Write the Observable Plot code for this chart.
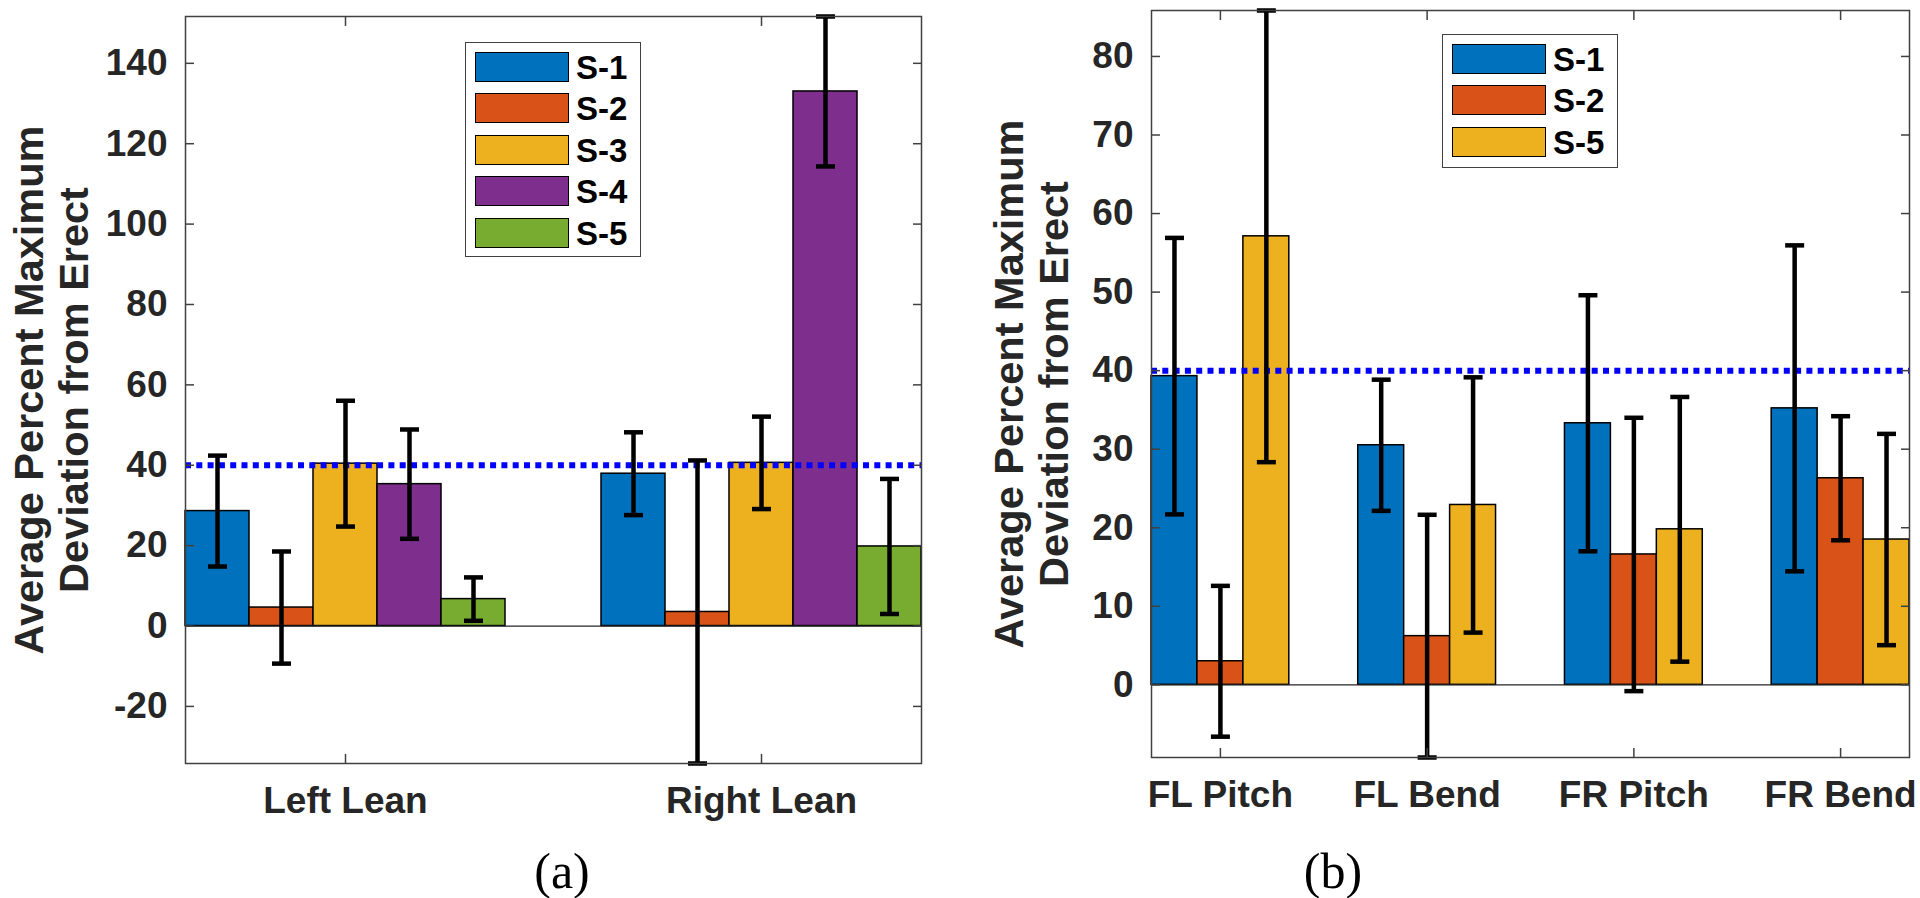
<!DOCTYPE html>
<html>
<head>
<meta charset="utf-8">
<script src="https://cdn.jsdelivr.net/npm/d3@7"></script>
<script src="https://cdn.jsdelivr.net/npm/@observablehq/plot@0.6"></script>
<style>
  html, body { margin: 0; padding: 0; background: #fff; }
  body { width: 1920px; height: 898px; position: relative; overflow: hidden; font-family: "Liberation Sans", Arial, sans-serif; }
  .panel { position: absolute; top: 0; }
  .legend { position: absolute; border: 1.5px solid #404040; background: #fff; box-sizing: border-box; }
  .item { position: absolute; left: 0; height: 30px; }
  .sw { position: absolute; left: 9px; top: 0; width: 94px; height: 30px; border: 1.5px solid #000; box-sizing: border-box; }
  .lab { position: absolute; left: 110px; top: 50%; transform: translateY(-50%); font-weight: bold; font-size: 33px; color: #000; white-space: nowrap; line-height: 1; }
  .caption { position: absolute; font-family: "Liberation Serif", "Times New Roman", serif; font-size: 50px; color: #000; transform: translateX(-50%); line-height: 1; white-space: nowrap; }
</style>
</head>
<body>
<div id="left" class="panel" style="left:0px;width:940px;"></div>
<div id="right" class="panel" style="left:960px;width:960px;"></div>
<script>
// ---------- data ----------
const yLabelLines = ["Average Percent Maximum", "Deviation from Erect"];
const threshold = 40;

// Panel (a)
const leanCategories = ["Left Lean", "Right Lean"];
const leanSeries = ["S-1", "S-2", "S-3", "S-4", "S-5"];
const leanColors = ["#0072BD", "#D95319", "#EDB120", "#7E2F8E", "#77AC30"];
const leanMeans = [
  [28.6, 4.6, 40.4, 35.3, 6.7],
  [37.9, 3.5, 40.6, 133.0, 19.8]
];
const leanErrors = [
  [13.8, 13.95, 15.65, 13.6, 5.4],
  [10.3, 37.7, 11.5, 18.65, 16.8]
];
const leanTicks = [-20, 0, 20, 40, 60, 80, 100, 120, 140];

// Panel (b)
const motionCategories = ["FL Pitch", "FL Bend", "FR Pitch", "FR Bend"];
const motionSeries = ["S-1", "S-2", "S-5"];
const motionColors = ["#0072BD", "#D95319", "#EDB120"];
const motionMeans = [
  [39.3, 3.0, 57.1],
  [30.5, 6.2, 22.9],
  [33.3, 16.6, 19.8],
  [35.2, 26.3, 18.5]
];
const motionErrors = [
  [17.6, 9.6, 28.75],
  [8.35, 15.45, 16.25],
  [16.3, 17.4, 16.85],
  [20.75, 7.9, 13.45]
];
const motionTicks = [0, 10, 20, 30, 40, 50, 60, 70, 80];

// ---------- helpers ----------
const capSymbol = {
  draw(ctx, size) {
    const r = Math.sqrt(size / Math.PI);
    ctx.moveTo(-r, 0);
    ctx.lineTo(r, 0);
  }
};

function buildRows(categories, series, means, errs) {
  const n = series.length;
  const groupWidth = Math.min(0.8, n / (n + 1.5));
  const barWidth = groupWidth / n;
  const rows = [];
  categories.forEach((cat, i) => series.forEach((s, j) => {
    const left = i + 1 - groupWidth / 2 + j * barWidth;
    const m = means[i][j], e = errs[i][j];
    rows.push({cat, s, x1: left, x2: left + barWidth, xc: left + barWidth / 2, mean: m, lo: m - e, hi: m + e});
  }));
  return {rows, groupWidth};
}

function panel(opts) {
  const {categories, series, colors, means, errs, yTicks, width, height, margins, labelDx} = opts;
  const {rows, groupWidth} = buildRows(categories, series, means, errs);
  const xTicks = categories.map((_, i) => i + 1);
  const axisColor = "#404040";
  return Plot.plot({
    width, height,
    ...margins,
    style: {
      fontFamily: '"Liberation Sans", Arial, sans-serif',
      fontSize: "37px",
      fontWeight: "bold",
      color: "#262626",
      background: "transparent",
      overflow: "visible"
    },
    x: {domain: [1 - groupWidth / 2, categories.length + groupWidth / 2]},
    y: {domain: [d3.min(rows, d => d.lo), d3.max(rows, d => d.hi)]},
    color: {domain: series, range: colors},
    marks: [
      Plot.rect(rows, {x1: "x1", x2: "x2", y1: 0, y2: "mean", fill: "s", stroke: "#000", strokeWidth: 1.5}),
      Plot.ruleY([0], {stroke: "#262626", strokeWidth: 1.3}),
      Plot.ruleY([threshold], {stroke: "#0000FF", strokeWidth: 6, strokeDasharray: "6 5.3"}),
      Plot.ruleX(rows, {x: "xc", y1: "lo", y2: "hi", stroke: "#000", strokeWidth: 4.5}),
      Plot.dot(rows, {x: "xc", y: "lo", r: 9.5, symbol: capSymbol, stroke: "#000", fill: "none", strokeWidth: 4.5}),
      Plot.dot(rows, {x: "xc", y: "hi", r: 9.5, symbol: capSymbol, stroke: "#000", fill: "none", strokeWidth: 4.5}),
      Plot.frame({stroke: axisColor, strokeWidth: 1.5}),
      Plot.axisY({anchor: "left", ticks: yTicks, tickFormat: d => String(d), tickSize: 0, tickPadding: 18, label: null}),
      Plot.axisY({anchor: "left", ticks: yTicks, tickSize: -9, fill: "none", stroke: axisColor, strokeWidth: 1.5, label: null}),
      Plot.axisY({anchor: "right", ticks: yTicks, tickSize: -9, fill: "none", stroke: axisColor, strokeWidth: 1.5, label: null}),
      Plot.axisX({anchor: "bottom", ticks: xTicks, tickFormat: v => categories[v - 1], tickSize: 0, tickPadding: 23, label: null}),
      Plot.axisX({anchor: "bottom", ticks: xTicks, tickSize: -9, fill: "none", stroke: axisColor, strokeWidth: 1.5, label: null}),
      Plot.axisX({anchor: "top", ticks: xTicks, tickSize: -9, fill: "none", stroke: axisColor, strokeWidth: 1.5, label: null}),
      Plot.text([yLabelLines.join("\n")], {
        text: d => d, frameAnchor: "left", rotate: -90, textAnchor: "middle", lineAnchor: "bottom",
        lineHeight: 1.07, dx: labelDx, fontSize: 41.5, fontWeight: "bold", fill: "#262626"
      })
    ]
  });
}

function legend(container, series, colors, left, top, width, height) {
  const box = document.createElement("div");
  box.className = "legend";
  Object.assign(box.style, {left: left + "px", top: top + "px", width: width + "px", height: height + "px"});
  series.forEach((s, i) => {
    const item = document.createElement("div");
    item.className = "item";
    item.style.top = (9 + i * 41.4) + "px";
    item.style.width = width + "px";
    const sw = document.createElement("div");
    sw.className = "sw";
    sw.style.background = colors[i];
    const lab = document.createElement("div");
    lab.className = "lab";
    lab.textContent = s;
    item.appendChild(sw);
    item.appendChild(lab);
    box.appendChild(item);
  });
  container.appendChild(box);
}

function caption(text, cx, top) {
  const c = document.createElement("div");
  c.className = "caption";
  c.textContent = text;
  c.style.left = cx + "px";
  c.style.top = top + "px";
  document.body.appendChild(c);
}

// ---------- render ----------
const leftEl = document.getElementById("left");
leftEl.appendChild(panel({
  categories: leanCategories, series: leanSeries, colors: leanColors,
  means: leanMeans, errs: leanErrors, yTicks: leanTicks,
  width: 940, height: 835,
  margins: {marginLeft: 185, marginRight: 19, marginTop: 16, marginBottom: 72},
  labelDx: -98
}));
legend(leftEl, leanSeries, leanColors, 465, 42, 176, 215);

const rightEl = document.getElementById("right");
rightEl.appendChild(panel({
  categories: motionCategories, series: motionSeries, colors: motionColors,
  means: motionMeans, errs: motionErrors, yTicks: motionTicks,
  width: 960, height: 835,
  margins: {marginLeft: 191, marginRight: 11, marginTop: 10, marginBottom: 78},
  labelDx: -84
}));
legend(rightEl, motionSeries, motionColors, 482, 34, 176, 134);

caption("(a)", 562, 846);
caption("(b)", 1333, 846);
</script>
</body>
</html>
